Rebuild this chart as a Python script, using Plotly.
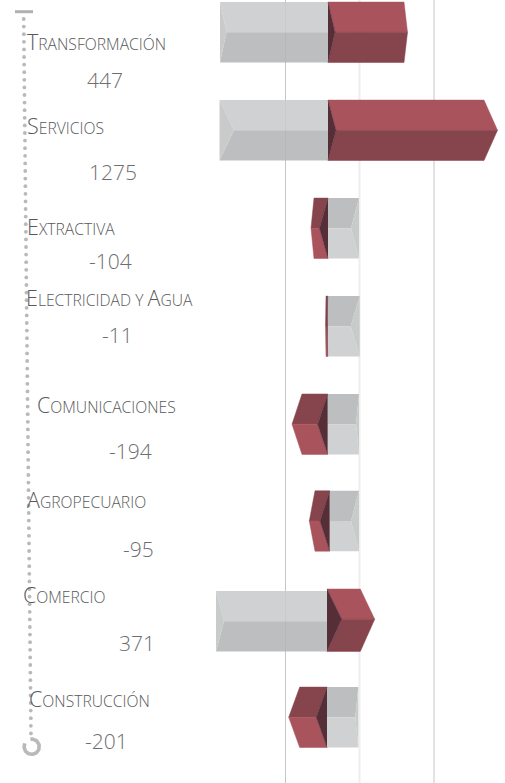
import numpy as np
import plotly.graph_objects as go

# --- data ---
categories = ["Transformación", "Servicios", "Extractiva", "Electricidad y Agua",
              "Comunicaciones", "Agropecuario", "Comercio", "Construcción"]
values = [447, 1275, -104, -11, -194, -95, 371, -201]
# bar geometry in axis units (0 = common baseline)
bar_base = [0, 0, 0, -0.3, -0.3, 1.7, -1, -1]
red_tip = [79.5, 169.5, -17, -2.5, -36, -18.7, 46.7, -39.3]
red_shoulder = [76, 156, -14, -2, -26, -13, 32.3, -28.3]
red_inner = [7, 8, -8.5, -1, -10.3, -8, 13.7, -11.7]
gray_edge = [-108, -108.5, 31, 31.7, 31, 31, -112, 30.3]
gray_inner = [-101.5, -94, 23, 22.7, 28, 23, -104, 27.3]
grid_vals = [-42.5, 31.5, 106]

# --- layout constants (page positions) ---
BASE_PX = 328
row_center = [32.3, 130.3, 228.3, 326.3, 424.2, 521, 621.2, 717.3]
red_shift = [0, 0, 0, 0, 0, 0, -2, 0]
BAR_H = 60.4
label_xy = [(27, 41), (27, 125), (27, 226), (26, 297), (37, 404), (27, 499), (23, 594), (29, 698)]
value_xy = [(104.5, 80), (113, 172), (110, 261), (117, 335), (130, 451), (138, 549), (137, 643), (106, 741)]

RED_LIGHT, RED_DARK, RED_CAP = "#a9545d", "#86444d", "#562e37"
GRAY_LIGHT, GRAY_DARK, GRAY_CAP = "rgba(202,203,205,0.88)", "rgba(180,181,183,0.88)", "rgba(194,195,195,0.88)"
TEXT1, TEXT2 = "#58595b", "#6d6e71"
FONT = "Open Sans"

fig = go.Figure()


def facet(xs, ys, color, lw=0.5):
    fig.add_trace(go.Scatter(x=xs, y=ys, mode="lines", fill="toself", fillcolor=color,
                             line=dict(width=lw, color=color), hoverinfo="skip", showlegend=False))


for i in range(len(categories)):
    b = bar_base[i]
    top, mid, bot = row_center[i] - BAR_H / 2, row_center[i], row_center[i] + BAR_H / 2
    upper_g, lower_g = (GRAY_LIGHT, GRAY_DARK) if values[i] > 0 else (GRAY_DARK, GRAY_LIGHT)
    upper_r, lower_r = (RED_LIGHT, RED_DARK) if values[i] > 0 else (RED_DARK, RED_LIGHT)
    ge, gi = gray_edge[i], gray_inner[i]
    facet([b, ge, gi, b], [top, top, mid, mid], upper_g, 0)
    facet([b, ge, gi, b], [bot, bot, mid, mid], lower_g, 0)
    facet([ge, gi, ge], [top, mid, bot], GRAY_CAP, 0)
    s = red_shift[i]
    rt, rs, ri = red_tip[i], red_shoulder[i], red_inner[i]
    facet([b, rs, rt, ri], [top + s, top + s, mid + s, mid + s], upper_r)
    facet([b, rs, rt, ri], [bot, bot, mid + s, mid + s], lower_r)
    facet([b, ri, b], [top + s, mid + s, bot], RED_CAP)

# dotted timeline with end caps
dots_y = np.arange(19, 738, 7.6)
dots_x = 23.7 + (dots_y - 19) * (31 - 23.7) / (737 - 19)
fig.add_trace(go.Scatter(x=dots_x - BASE_PX, y=dots_y, mode="markers",
                         marker=dict(size=3.8, color="#b8b9ba"), hoverinfo="skip", showlegend=False))
fig.add_trace(go.Scatter(x=[15 - BASE_PX, 33 - BASE_PX], y=[11.7, 11.7], mode="lines",
                         line=dict(width=3, color="#b0b1b2"), hoverinfo="skip", showlegend=False))
ang = np.radians(np.linspace(-205, 100, 60))
fig.add_trace(go.Scatter(x=31.7 + 7.6 * np.cos(ang) - BASE_PX, y=746.7 - 7.6 * np.sin(ang), mode="lines",
                         line=dict(width=3.6, color="#b8b9ba"), hoverinfo="skip", showlegend=False))


def small_caps(text):
    out = []
    for w in text.split(" "):
        if w == "y":
            out.append('<span style="font-size:15.7px">Y</span>')
        else:
            out.append(f'<span style="font-size:21.5px">{w[0].upper()}</span>'
                       f'<span style="font-size:15.7px">{w[1:].upper()}</span>')
    return " ".join(out)


for c, (lx, ly), v, (vx, vy) in zip(categories, label_xy, values, value_xy):
    fig.add_annotation(x=lx - BASE_PX, y=ly, text=small_caps(c), showarrow=False, xanchor="left",
                       yanchor="middle", xshift=-2, font=dict(family=FONT, size=15.7, color=TEXT1, weight=300))
    fig.add_annotation(x=vx - BASE_PX, y=vy, text=str(v), showarrow=False, xanchor="center",
                       yanchor="middle", font=dict(family=FONT, size=21, color=TEXT2, weight=300))

for val, col, w in zip(grid_vals, ["#c4c5c6", "#eeeeee", "#c4c5c6"], [1, 2, 1]):
    fig.add_shape(type="line", x0=val, x1=val, y0=0, y1=783, layer="below", line=dict(color=col, width=w))

fig.update_layout(width=505, height=783, margin=dict(l=0, r=0, t=0, b=0), paper_bgcolor="white",
                  plot_bgcolor="white", showlegend=False,
                  xaxis=dict(range=[-BASE_PX, 505 - BASE_PX], visible=False, fixedrange=True),
                  yaxis=dict(range=[783, 0], visible=False, fixedrange=True))
fig.write_html("out.html", config={"displayModeBar": False},
               post_script="document.body.style.margin='0';")
